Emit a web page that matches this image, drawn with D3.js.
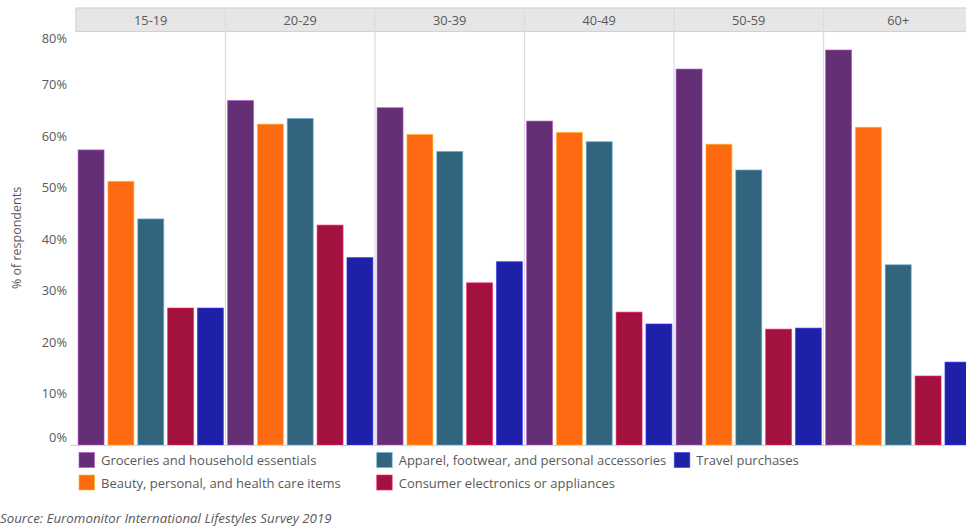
<!DOCTYPE html>
<html><head><meta charset="utf-8">
<script src="https://cdn.jsdelivr.net/npm/d3@7"></script>
<style>
html,body{margin:0;padding:0;background:#fff;overflow:hidden}
text{font-family:"Open Sans",sans-serif}
</style></head>
<body>
<svg id="chart" width="966" height="526"></svg>
<script>
const ageGroups = ["15-19","20-29","30-39","40-49","50-59","60+"];
const seriesNames = [
  "Groceries and household essentials",
  "Beauty, personal, and health care items",
  "Apparel, footwear, and personal accessories",
  "Consumer electronics or appliances",
  "Travel purchases"
];
const seriesColors = ["#652f76","#fe6a12","#33647e","#a3123e","#1f20a8"];
const groceries   = [57.3, 66.9, 65.5, 62.9, 73.0, 76.7];
const beauty      = [51.2, 62.3, 60.3, 60.7, 58.4, 61.7];
const apparel     = [43.9, 63.4, 57.0, 58.9, 53.4, 35.0];
const electronics = [26.6, 42.7, 31.5, 25.8, 22.5, 13.4];
const travel      = [26.6, 36.4, 35.6, 23.5, 22.7, 16.1];
const seriesValues = [groceries, beauty, apparel, electronics, travel];
const yTicks = [0,10,20,30,40,50,60,70,80];
const yLabel = "% of respondents";
const source = "Source: Euromonitor International Lifestyles Survey 2019";

(function(){
const svg = d3.select("#chart");
const left = 76, facetW = 149.5, plotTop = 31.5, bottom = 445;
const txt = "#595959";

const x0 = d3.scaleBand().domain(ageGroups).range([left, left + facetW*ageGroups.length]);
const x1 = d3.scaleBand().domain(seriesNames).range([0, facetW]).paddingInner(0.13).paddingOuter(0.07);
const y = d3.scaleLinear().domain([0,80]).range([bottom, 33]);

// header strip
const hdr = svg.append("g");
hdr.append("rect").attr("x", left).attr("y", 8).attr("width", facetW*6).attr("height", plotTop-8)
  .attr("fill","#e6e6e6").attr("stroke","#d2d2d2").attr("stroke-width",1.2);
ageGroups.forEach((g,i)=>{
  hdr.append("text").attr("x", x0(g)+facetW/2).attr("y", 20).attr("text-anchor","middle")
    .attr("dominant-baseline","central").attr("font-size",12.8).attr("fill",txt).text(g);
  if(i>0){
    svg.append("line").attr("x1",x0(g)).attr("x2",x0(g)).attr("y1",8).attr("y2",bottom)
      .attr("stroke","#dcdcdc").attr("stroke-width",1.3);
  }
});

// bars
ageGroups.forEach((g,gi)=>{
  const gg = svg.append("g").attr("transform",`translate(${x0(g)},0)`);
  seriesNames.forEach((s,si)=>{
    const v = seriesValues[si][gi];
    gg.append("rect").attr("x", x1(s)).attr("width", x1.bandwidth())
      .attr("y", y(v)).attr("height", y(0)-y(v))
      .attr("fill", seriesColors[si])
      .attr("stroke", d3.color(seriesColors[si]).brighter(1.6)).attr("stroke-opacity",0.6).attr("stroke-width",1);
  });
});

// baseline
svg.append("line").attr("x1",70).attr("x2",left+facetW*6).attr("y1",bottom+0.5).attr("y2",bottom+0.5)
  .attr("stroke","#d0d0d0").attr("stroke-width",1.2);

// y axis
const yAxis = d3.axisLeft(y).tickValues(yTicks).tickFormat(d=>d+"%").tickSize(0).tickPadding(0);
const ya = svg.append("g").attr("transform",`translate(67,0)`).call(yAxis);
ya.select(".domain").remove();
ya.selectAll("text").attr("font-size",12.8).attr("fill",txt).attr("font-family","Open Sans")
  .attr("dy", d => d===0 ? "-0.3em" : d===80 ? "0.75em" : "0.32em");

svg.append("text").attr("transform","translate(21,238) rotate(-90)").attr("text-anchor","middle")
  .attr("font-size",12.5).attr("fill",txt).text(yLabel);

// legend
const legendPos = [[79,460],[79,482.5],[376.7,460],[376.7,482.5],[674.3,460]];
seriesNames.forEach((name,si)=>{
  const [lx,ly] = legendPos[si];
  svg.append("rect").attr("x",lx).attr("y",ly-7.5).attr("width",15.5).attr("height",15)
    .attr("fill",seriesColors[si]).attr("stroke", d3.color(seriesColors[si]).brighter(1.6)).attr("stroke-opacity",0.6);
  svg.append("text").attr("x",lx+22).attr("y",ly).attr("dominant-baseline","central")
    .attr("font-size",13).attr("fill",txt).text(name);
});

svg.append("text").attr("x",0).attr("y",517.5).attr("dominant-baseline","central")
  .attr("font-size",13.3).attr("font-style","italic").attr("fill",txt).text(source);
})();
</script>
</body></html>
